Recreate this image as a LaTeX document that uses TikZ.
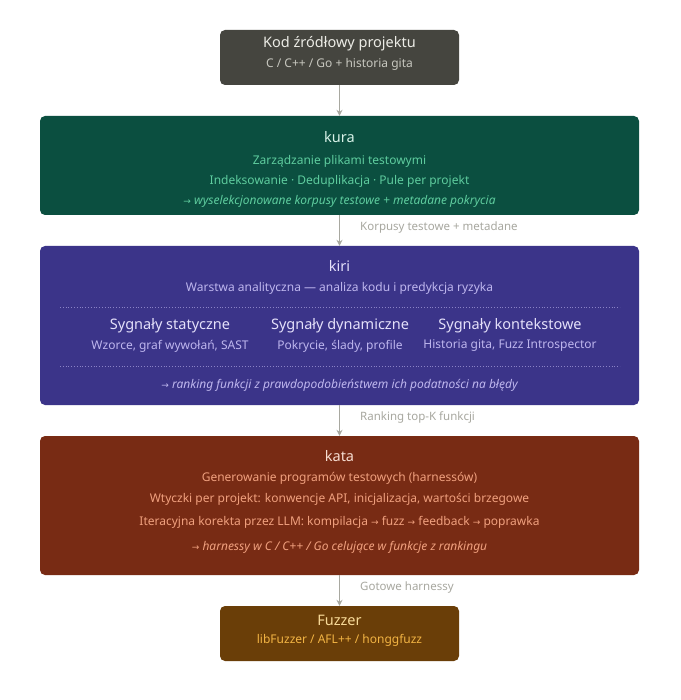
\documentclass[tikz,border=0pt]{standalone}
\usepackage{fontspec}
\setmainfont{Noto Sans}
\newfontfamily\arfont{DejaVu Sans}
\newcommand{\rarr}{{\arfont\fontsize{9}{10}\selectfont\upshape →}}
\usetikzlibrary{arrows.meta}
\definecolor{gbox}{HTML}{45453F}\definecolor{gt}{HTML}{ECECE6}\definecolor{gs}{HTML}{C8C8C0}
\definecolor{kub}{HTML}{0B4F40}\definecolor{kut}{HTML}{D8F2E8}\definecolor{kus}{HTML}{5ECC9E}
\definecolor{kib}{HTML}{3B3489}\definecolor{kit}{HTML}{E4E0FA}\definecolor{kis}{HTML}{BEB6EE}
\definecolor{kab}{HTML}{782B14}\definecolor{kat}{HTML}{F6DCD0}\definecolor{kas}{HTML}{F0A07E}
\definecolor{fb}{HTML}{6A3E08}\definecolor{ft}{HTML}{F8DA98}\definecolor{fs}{HTML}{F2B444}
\definecolor{arr}{HTML}{A8A8A0}
\tikzset{
 box/.style={rounded corners=5pt,draw=none},
 ttl/.style={font=\fontsize{14.5}{16}\selectfont,anchor=center,inner sep=0},
 sub/.style={font=\fontsize{12}{13}\selectfont,anchor=center,inner sep=0},
 ita/.style={font=\fontsize{12}{13}\selectfont\itshape,anchor=center,inner sep=0},
 con/.style={draw=arr,line width=1pt,-{Stealth[length=6pt,width=6pt]}},
 lab/.style={font=\fontsize{11.5}{13}\selectfont,text=arr,anchor=west,inner sep=0},
 dots/.style={draw=kis!60!kib,line width=0.8pt,dotted}
}
\begin{document}
\begin{tikzpicture}[x=1pt,y=-1pt]
\useasboundingbox[fill=white] (0,0) rectangle (680,700);
\node[box,fill=gbox,minimum width=239pt,minimum height=55pt] (src) at (339.5,57.5) {};
\node[ttl,text=gt] at (339.5,44) {Kod źródłowy projektu};
\node[sub,text=gs] at (339.5,64) {C / C++ / Go + historia gita};

\node[box,fill=kub,minimum width=599pt,minimum height=99pt] (kura) at (339.5,165.5) {};
\node[ttl,text=kut] at (339.5,137) {kura};
\node[sub,text=kus] at (339.5,161) {Zarządzanie plikami testowymi};
\node[sub,text=kus] at (339.5,181) {Indeksowanie · Deduplikacja · Pule per projekt};
\node[ita,text=kus] at (339.5,201) {\rarr{} wyselekcjonowane korpusy testowe + metadane pokrycia};

\node[box,fill=kib,minimum width=599pt,minimum height=159pt] (kiri) at (339.5,325.5) {};
\node[ttl,text=kit] at (339.5,266) {kiri};
\node[sub,text=kis] at (339.5,288) {Warstwa analityczna — analiza kodu i predykcja ryzyka};
\draw[dots] (60,307) -- (620,307);
\draw[dots] (60,366) -- (620,366);
\node[ttl,text=kit] at (170,326) {Sygnały statyczne};
\node[ttl,text=kit] at (340,326) {Sygnały dynamiczne};
\node[ttl,text=kit] at (510,326) {Sygnały kontekstowe};
\node[sub,text=kis] at (170,346) {Wzorce, graf wywołań, SAST};
\node[sub,text=kis] at (340,346) {Pokrycie, ślady, profile};
\node[sub,text=kis] at (510,346) {Historia gita, Fuzz Introspector};
\node[ita,text=kis] at (339.5,385) {\rarr{} ranking funkcji z prawdopodobieństwem ich podatności na błędy};

\node[box,fill=kab,minimum width=599pt,minimum height=139pt] (kata) at (339.5,505.5) {};
\node[ttl,text=kat] at (339.5,456) {kata};
\node[sub,text=kas] at (339.5,478) {Generowanie programów testowych (harnessów)};
\node[sub,text=kas] at (339.5,499) {Wtyczki per projekt: konwencje API, inicjalizacja, wartości brzegowe};
\node[sub,text=kas] at (339.5,522) {Iteracyjna korekta przez LLM: kompilacja \rarr{} fuzz \rarr{} feedback \rarr{} poprawka};
\node[ita,text=kas] at (339.5,547) {\rarr{} harnessy w C / C++ / Go celujące w funkcje z rankingu};

\node[box,fill=fb,minimum width=239pt,minimum height=55pt] (fz) at (339.5,633.5) {};
\node[ttl,text=ft] at (339.5,620) {Fuzzer};
\node[sub,text=fs] at (339.5,640) {libFuzzer / AFL++ / honggfuzz};

\draw[con] (src.south) -- (kura.north);
\draw[con] (kura.south) -- (kiri.north);
\draw[con] (kiri.south) -- (kata.north);
\draw[con] (kata.south) -- (fz.north);
\node[lab] at (360,228) {Korpusy testowe + metadane};
\node[lab] at (360,417) {Ranking top-K funkcji};
\node[lab] at (360,588) {Gotowe harnessy};
\end{tikzpicture}
\end{document}
